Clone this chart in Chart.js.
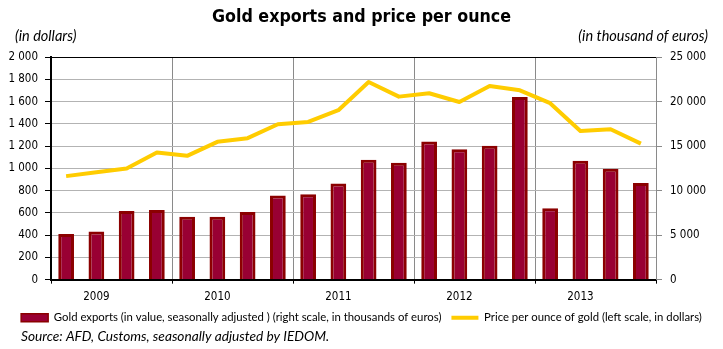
<!DOCTYPE html>
<html>
<head>
<meta charset="utf-8">
<script src="https://cdn.jsdelivr.net/npm/chart.js@4/dist/chart.umd.min.js"></script>
<style>
html,body{margin:0;padding:0;background:#fff;}
#wrap{width:723px;height:349px;position:relative;}
</style>
</head>
<body>
<div id="wrap"><canvas id="c" width="723" height="349"></canvas></div>
<script>
// ---- data ----
const categories = ["2009 Q1","2009 Q2","2009 Q3","2009 Q4","2010 Q1","2010 Q2","2010 Q3","2010 Q4","2011 Q1","2011 Q2","2011 Q3","2011 Q4","2012 Q1","2012 Q2","2012 Q3","2012 Q4","2013 Q1","2013 Q2","2013 Q3","2013 Q4"];
const yearLabels = ["2009","2010","2011","2012","2013"];
const goldExports = [5130,5400,7720,7830,7050,7050,7610,9450,9600,10800,13470,13130,15520,14630,15040,20520,8020,13360,12460,10860];
const goldPrice = [930,964,998,1142,1112,1238,1271,1396,1417,1522,1776,1644,1674,1596,1740,1701,1585,1336,1351,1222];
const seriesNames = ["Gold exports (in value, seasonally adjusted ) (right scale, in thousands of euros)","Price per ounce of gold (left scale, in dollars)"];
const chartTitle = "Gold exports and price per ounce";
const leftUnit = "(in dollars)";
const rightUnit = "(in thousand of euros)";
const sourceText = "Source: AFD, Customs, seasonally adjusted by IEDOM.";

const TICK_FONT = {family:"'DejaVu Sans Condensed','DejaVu Sans',sans-serif", size:11.5};
const BAR_FILL = '#990033', BAR_EDGE = '#8B0000', LINE_COL = '#FFCC00';

function fmt(v){ return String(v).replace(/\B(?=(\d{3})+(?!\d))/g,' '); }

const annot = {
  id:'annot',
  afterDraw(chart){
    const ctx = chart.ctx;
    ctx.save();
    ctx.fillStyle = '#000';
    ctx.textBaseline = 'middle';
    ctx.font = "italic 14.5px Lato, 'Liberation Sans', sans-serif";
    ctx.textAlign = 'left';
    ctx.fillText(leftUnit, 15, 36.5);
    ctx.textAlign = 'right';
    ctx.fillText(rightUnit, 708, 36.5);
    ctx.font = "italic 13.7px Lato, 'Liberation Sans', sans-serif";
    ctx.textAlign = 'left';
    ctx.fillText(sourceText, 21, 336.5);
    ctx.restore();
  }
};

Chart.defaults.color = '#000';
new Chart(document.getElementById('c'), {
  data: {
    labels: categories,
    datasets: [
      {type:'bar', label: seriesNames[0], data: goldExports, yAxisID:'y1', order:1,
       backgroundColor: BAR_FILL, borderColor: BAR_EDGE, borderWidth:3,
       barPercentage:0.52, categoryPercentage:1},
      {type:'line', label: seriesNames[1], data: goldPrice, yAxisID:'y', order:0,
       borderColor: LINE_COL, backgroundColor: LINE_COL, borderWidth:4, pointRadius:0, tension:0,
       borderJoinStyle:'round'}
    ]
  },
  options: {
    responsive:false, animation:false, devicePixelRatio:1,
    layout:{padding:{left:0,right:0,top:0,bottom:15.5}},
    plugins:{
      tooltip:{enabled:false},
      title:{display:true, text: chartTitle, color:'#000',
        font:{family:"'DejaVu Sans Condensed','DejaVu Sans',sans-serif", weight:'bold', size:17.7},
        padding:{top:7,bottom:28.76}},
      legend:{position:'bottom', align:'center',
        labels:{
          font:{family:"Lato, 'Liberation Sans', sans-serif", size:11.35},
          color:'#000', padding:10, usePointStyle:true, pointStyleWidth:27, boxHeight:8,
          generateLabels(){
            return [
              {text: seriesNames[0], fillStyle: BAR_FILL, strokeStyle: BAR_EDGE, lineWidth:1.5, pointStyle:'rect', datasetIndex:0, hidden:false, fontColor:'#000'},
              {text: seriesNames[1], fillStyle: LINE_COL, strokeStyle: LINE_COL, lineWidth:4, pointStyle:'line', datasetIndex:1, hidden:false, fontColor:'#000'}
            ];
          }
        }
      }
    },
    scales:{
      x:{type:'category', offset:true,
        grid:{offset:true, drawOnChartArea:true, tickLength:4, lineWidth:1,
          color:(c)=> (c.index===undefined || (c.index%4===0 && c.index>0)) ? '#8a8a8a' : 'rgba(0,0,0,0)',
          tickColor:(c)=> (c.index===undefined || c.index%4===0) ? '#000' : 'rgba(0,0,0,0)'},
        border:{display:true, color:'#000', width:2},
        ticks:{autoSkip:false, maxRotation:0, padding:6, font:TICK_FONT, color:'#000',
          callback:(v,i)=> (i%4===1) ? yearLabels[Math.floor(i/4)] : ''},
        afterFit:(s)=>{ s.height = 22.5; }
      },
      y:{type:'linear', position:'left', min:0, max:2000,
        grid:{tickLength:6, lineWidth:1,
          color:(c)=> (c.tick && c.tick.value===2000) ? '#000' : ((c.tick && c.tick.value===0) ? 'rgba(0,0,0,0)' : '#b3b3b3'),
          tickColor:'#000'},
        border:{display:true, color:'#000', width:2},
        ticks:{stepSize:200, padding:7, font:TICK_FONT, color:'#000', callback:(v)=>fmt(v)},
        afterFit:(s)=>{ s.width = 51; }
      },
      y1:{type:'linear', position:'right', min:0, max:25000,
        grid:{drawOnChartArea:false, tickLength:6, tickColor:'#8a8a8a'},
        border:{display:true, color:'#8a8a8a', width:1},
        ticks:{stepSize:5000, padding:8, font:TICK_FONT, color:'#000', callback:(v)=>fmt(v)},
        afterFit:(s)=>{ s.width = 67; }
      }
    }
  },
  plugins:[annot]
});
</script>
</body>
</html>
